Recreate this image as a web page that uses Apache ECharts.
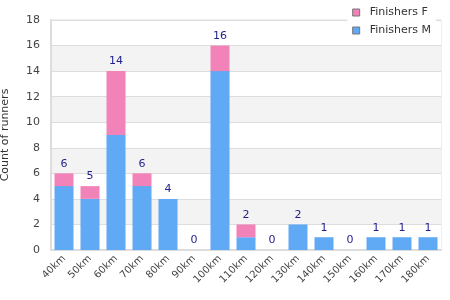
<!DOCTYPE html>
<html>
<head>
<meta charset="utf-8">
<script src="https://cdn.jsdelivr.net/npm/echarts@6/dist/echarts.min.js"></script>
<style>
  html, body { margin: 0; padding: 0; background: #fff; }
  #chart { width: 450px; height: 300px; }
</style>
</head>
<body>
<div id="chart"></div>
<script>
// distances
var categories = ["40km", "50km", "60km", "70km", "80km", "90km", "100km", "110km",
  "120km", "130km", "140km", "150km", "160km", "170km", "180km"];
// finishers by sex
var finishersM = [5, 4, 9, 5, 4, 0, 14, 1, 0, 2, 1, 0, 1, 1, 1];
var finishersF = [1, 1, 5, 1, 0, 0, 2, 1, 0, 0, 0, 0, 0, 0, 0];
var totals = finishersM.map(function (m, i) { return m + finishersF[i]; });
var yTicks = { min: 0, max: 18, interval: 2 };

var font = "DejaVu Sans";
var myChart = echarts.init(document.getElementById("chart"));

var option = {
  animation: false,
  textStyle: { fontFamily: font },
  legend: {
    orient: "vertical",
    right: 14,
    top: 2,
    itemWidth: 7,
    itemHeight: 7,
    itemGap: 7,
    icon: "rect",
    backgroundColor: "#fff",
    data: [
      { name: "Finishers F", itemStyle: { borderColor: "#777", borderWidth: 1 } },
      { name: "Finishers M", itemStyle: { borderColor: "#777", borderWidth: 1 } }
    ],
    textStyle: { color: "#333", fontSize: 11, fontFamily: font, padding: [0, 0, 0, 5] }
  },
  grid: {
    left: 51,
    right: 9,
    top: 20,
    bottom: 50,
    containLabel: false,
    outerBoundsMode: "none",
    show: true,
    borderColor: "#ddd",
    borderWidth: 1,
    backgroundColor: "transparent"
  },
  xAxis: {
    type: "category",
    data: categories,
    axisTick: { show: false },
    axisLine: { show: true, lineStyle: { color: "#ddd", width: 2 } },
    axisLabel: {
      rotate: 45,
      color: "#444",
      fontSize: 10,
      fontFamily: font,
      interval: 0,
      margin: 7
    }
  },
  yAxis: {
    type: "value",
    min: yTicks.min,
    max: yTicks.max,
    interval: yTicks.interval,
    name: "Count of runners",
    nameLocation: "middle",
    nameGap: 40,
    nameTextStyle: { color: "#333", fontSize: 11, fontFamily: font },
    axisLine: { show: true, lineStyle: { color: "#ddd", width: 2 } },
    axisTick: { show: false },
    axisLabel: { color: "#444", fontSize: 11, fontFamily: font, margin: 11 },
    splitLine: { show: true, lineStyle: { color: "#ddd" } },
    splitArea: { show: true, areaStyle: { color: ["#ffffff", "#f3f3f3"] } }
  },
  series: [
    {
      name: "Finishers M",
      type: "bar",
      stack: "total",
      data: finishersM,
      barWidth: 19,
      itemStyle: { color: "#60a9f4" }
    },
    {
      name: "Finishers F",
      type: "bar",
      stack: "total",
      data: finishersF,
      barWidth: 19,
      itemStyle: { color: "#f283b8" },
      label: {
        show: true,
        position: "top",
        distance: 4,
        color: "#1f1f8f",
        fontSize: 11,
        fontFamily: font,
        formatter: function (p) { return totals[p.dataIndex]; }
      }
    }
  ]
};
myChart.setOption(option);
</script>
</body>
</html>
